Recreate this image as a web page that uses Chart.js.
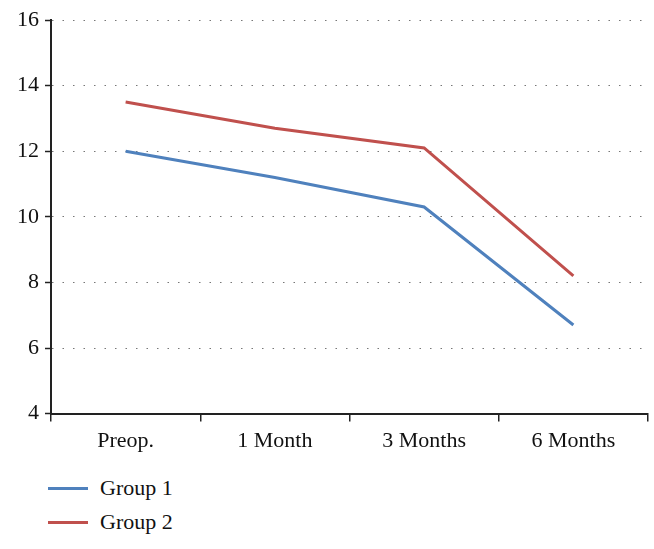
<!DOCTYPE html>
<html>
<head>
<meta charset="utf-8">
<script src="https://cdn.jsdelivr.net/npm/chart.js@4.4.1/dist/chart.umd.min.js"></script>
<style>
  body { margin: 0; background: #fff; }
  #wrap { position: relative; width: 654px; height: 549px; }
  #box { position: absolute; left: 0; top: 0; width: 654px; height: 460px; }
  #legend { position: absolute; left: 48px; top: 471px; font-family: "Liberation Serif", serif; font-size: 22px; color: #111; }
  .item { display: flex; align-items: center; height: 34px; }
  .swatch { width: 40px; height: 3px; margin-right: 12px; }
</style>
</head>
<body>
<div id="wrap">
  <div id="box"><canvas id="grafico"></canvas></div>
  <div id="legend"></div>
</div>
<script>
const categorias = ["Preop.", "1 Month", "3 Months", "6 Months"];
const grupo1 = [12.0, 11.2, 10.3, 6.7];
const grupo2 = [13.5, 12.7, 12.1, 8.2];
const nombres = ["Group 1", "Group 2"];
const colores = ["#4F81BD", "#C0504D"];

const ctx = document.getElementById("grafico").getContext("2d");

const chart = new Chart(ctx, {
  type: "line",
  data: {
    labels: categorias,
    datasets: [
      { label: nombres[0], data: grupo1, borderColor: colores[0], borderWidth: 3, pointRadius: 0, tension: 0, fill: false },
      { label: nombres[1], data: grupo2, borderColor: colores[1], borderWidth: 3, pointRadius: 0, tension: 0, fill: false }
    ]
  },
  options: {
    responsive: true,
    maintainAspectRatio: false,
    animation: false,
    layout: { padding: { top: 20, right: 6, left: 11, bottom: 0 } },
    plugins: {
      legend: { display: false },
      tooltip: { enabled: false }
    },
    scales: {
      x: {
        offset: true,
        grid: { offset: true, drawOnChartArea: false, drawTicks: true, tickLength: 8, color: "#222", lineWidth: 1.5 },
        border: { color: "#222", width: 2 },
        ticks: { color: "#111", font: { family: "Liberation Serif", size: 22 }, padding: 6, maxRotation: 0 }
      },
      y: {
        min: 4,
        max: 16,
        ticks: { stepSize: 2, color: "#111", font: { family: "Liberation Serif", size: 22 }, padding: 6 },
        grid: { color: "#777", lineWidth: 1, tickColor: "#222", tickLength: 6, tickWidth: 1.5 },
        border: { color: "#222", width: 2, dash: [1.5, 9] }
      }
    }
  }
});

const legend = document.getElementById("legend");
chart.data.datasets.forEach((ds) => {
  const item = document.createElement("div");
  item.className = "item";
  item.innerHTML = '<span class="swatch" style="background:' + ds.borderColor + '"></span>' + ds.label;
  legend.appendChild(item);
});
</script>
</body>
</html>
